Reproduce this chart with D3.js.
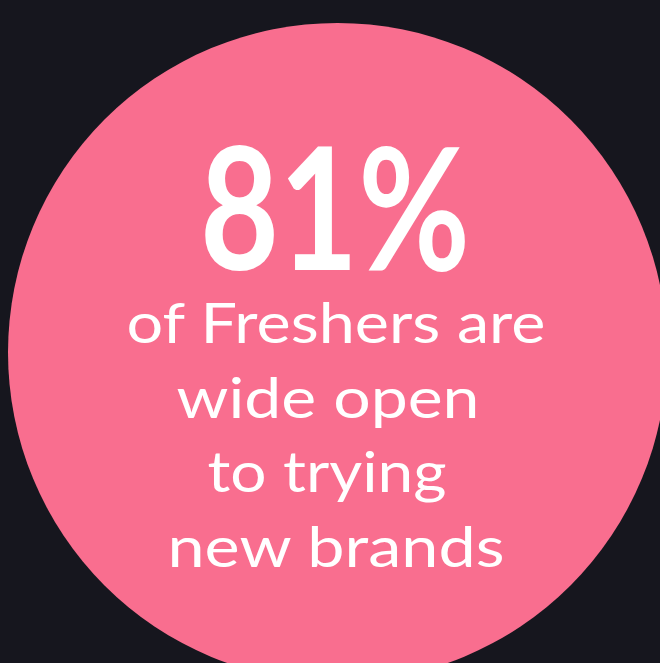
<!DOCTYPE html>
<html>
<head>
<meta charset="utf-8">
<script src="https://cdn.jsdelivr.net/npm/d3@7"></script>
<style>
  html, body { margin: 0; padding: 0; background: #16161e; }
  svg { display: block; }
</style>
</head>
<body>
<div id="container"></div>
<script>
const statValue = ['81%'];
const statLines = ['of Freshers are', 'wide open', 'to trying', 'new brands'];
const lineCentres = [336, 328, 327, 336];
const lineWidths = [419, 303, 239, 337];

const width = 660;
const height = 663;

const svg = d3.select('#container')
  .append('svg')
  .attr('width', width)
  .attr('height', height);

svg.append('rect')
  .attr('width', width)
  .attr('height', height)
  .attr('fill', '#16161e');

// big pink disc, cropped at right and bottom
svg.append('circle')
  .attr('cx', 337.5)
  .attr('cy', 352.5)
  .attr('r', 329.5)
  .attr('fill', '#f96e8f');

// headline figure
svg.append('text')
  .attr('transform', 'translate(335, 270) scale(1, 1.15)')
  .attr('text-anchor', 'middle')
  .attr('fill', '#ffffff')
  .style('font-family', 'Lato, sans-serif')
  .style('font-weight', 700)
  .style('font-size', '148px')
  .attr('textLength', 270)
  .attr('lengthAdjust', 'spacingAndGlyphs')
  .text(statValue[0]);

const lineY = d3.scalePoint()
  .domain(d3.range(statLines.length))
  .range([343, 567]);

svg.selectAll('.line')
  .data(statLines)
  .enter()
  .append('text')
  .attr('class', 'line')
  .attr('x', (d, i) => lineCentres[i])
  .attr('y', (d, i) => lineY(i))
  .attr('text-anchor', 'middle')
  .attr('fill', '#ffffff')
  .style('font-family', 'Lato, sans-serif')
  .style('font-weight', 400)
  .style('font-size', '56px')
  .attr('textLength', (d, i) => lineWidths[i])
  .attr('lengthAdjust', 'spacingAndGlyphs')
  .text(d => d);
</script>
</body>
</html>
